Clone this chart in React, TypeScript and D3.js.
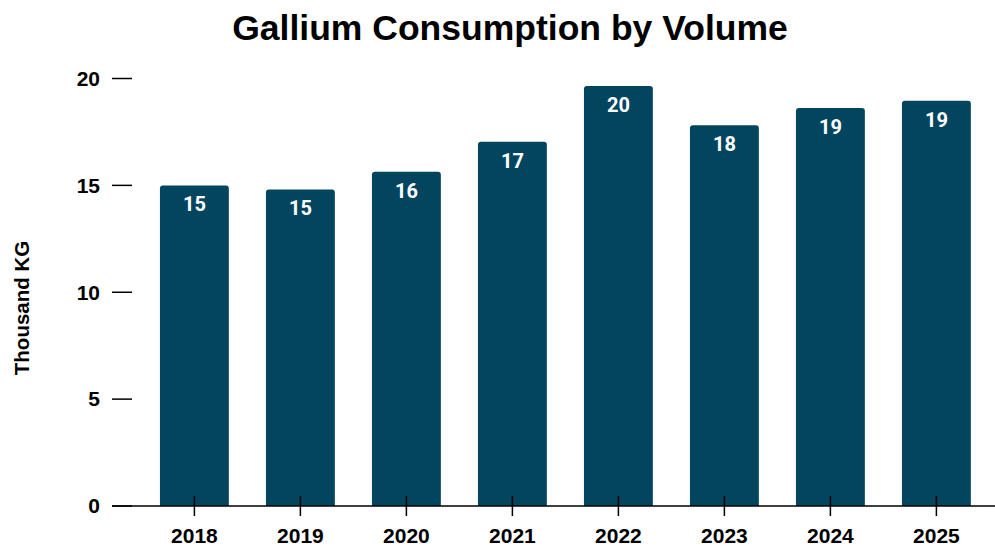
import React, { useEffect } from "react";
import * as d3 from "d3";

const years = ["2018", "2019", "2020", "2021", "2022", "2023", "2024", "2025"];
const consumption = [15.0, 14.81, 15.64, 17.04, 19.65, 17.81, 18.62, 18.96];
const yTicks = [0, 5, 10, 15, 20];
const title = "Gallium Consumption by Volume";
const yLabel = "Thousand KG";

const W = 995;
const H = 548;
const BAR = "#03455f";

export default function App() {
  useEffect(() => {
    document.body.style.margin = "0";
  }, []);

  const x = d3
    .scaleBand<string>()
    .domain(years)
    .range([141.4, 989.4])
    .paddingInner(0.35)
    .paddingOuter(0.175);
  const y = d3.scaleLinear().domain([0, 20]).range([506, 78.5]);
  const axisFont = "'Liberation Sans', Arial, sans-serif";
  const r = 3;

  const barPath = (x0: number, y0: number, w: number, y1: number) =>
    `M${x0},${y1}V${y0 + r}Q${x0},${y0} ${x0 + r},${y0}H${x0 + w - r}Q${x0 + w},${y0} ${x0 + w},${y0 + r}V${y1}Z`;

  return (
    <svg width={W} height={H} style={{ display: "block", background: "#fff" }}>
      <text
        x={510}
        y={40}
        textAnchor="middle"
        fontFamily={axisFont}
        fontWeight={700}
        fontSize={35.5}
        fill="#000"
      >
        {title}
      </text>
      <text
        transform={`translate(29,308) rotate(-90)`}
        textAnchor="middle"
        fontFamily={axisFont}
        fontWeight={700}
        fontSize={20.5}
        fill="#000"
      >
        {yLabel}
      </text>
      {yTicks.map((t) => (
        <g key={t}>
          <line x1={112} x2={132} y1={y(t)} y2={y(t)} stroke="#000" strokeWidth={1.5} />
          <text
            x={100}
            y={y(t)}
            dy="0.35em"
            textAnchor="end"
            fontFamily={axisFont}
            fontWeight={700}
            fontSize={21}
            fill="#000"
          >
            {t}
          </text>
        </g>
      ))}
      {years.map((yr, i) => {
        const x0 = x(yr)!;
        const w = x.bandwidth();
        const top = y(consumption[i]);
        return (
          <g key={yr}>
            <path d={barPath(x0, top, w, y(0))} fill={BAR} />
            <text
              x={x0 + w / 2}
              y={top + 26}
              textAnchor="middle"
              fontFamily="Roboto, sans-serif"
              fontWeight={700}
              fontSize={20}
              fill="#fff"
            >
              {Math.round(consumption[i])}
            </text>
          </g>
        );
      })}
      <line x1={112} x2={W} y1={y(0)} y2={y(0)} stroke="#000" strokeWidth={1.5} />
      {years.map((yr) => {
        const cx = x(yr)! + x.bandwidth() / 2;
        return (
          <g key={"t" + yr}>
            <line x1={cx} x2={cx} y1={496} y2={516} stroke="#000" strokeWidth={1.5} />
            <text
              x={cx}
              y={543}
              textAnchor="middle"
              fontFamily={axisFont}
              fontWeight={700}
              fontSize={21}
              fill="#000"
            >
              {yr}
            </text>
          </g>
        );
      })}
    </svg>
  );
}
